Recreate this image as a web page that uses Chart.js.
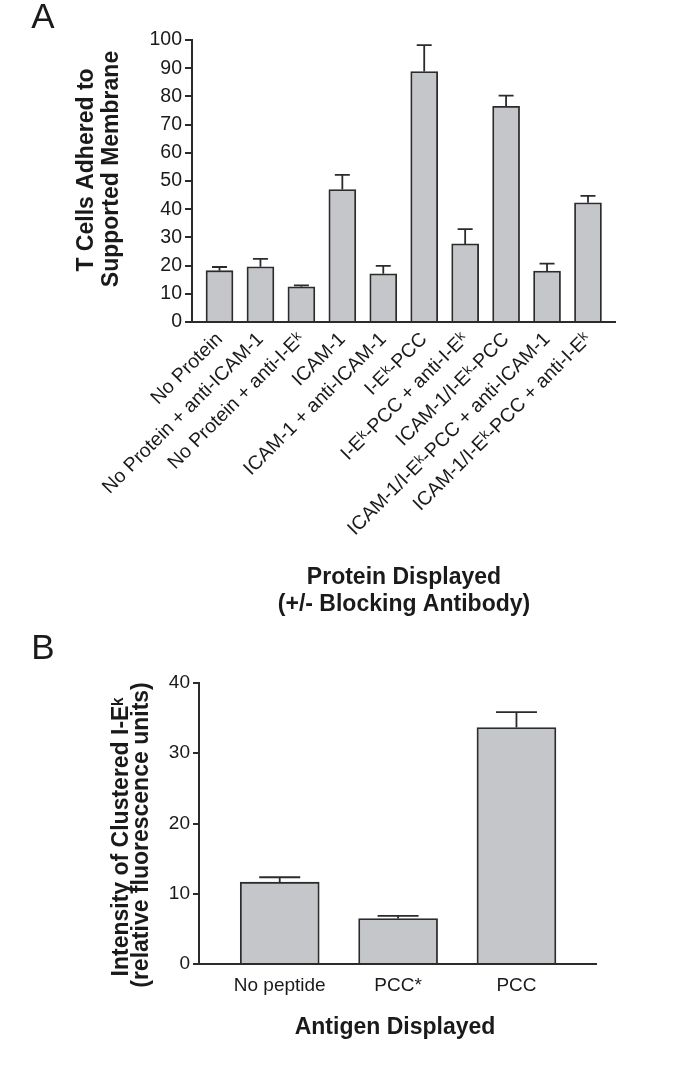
<!DOCTYPE html>
<html lang="en">
<head>
  <meta charset="UTF-8">
  <title>T cell adhesion and I-Ek clustering</title>
  <script src="https://cdn.jsdelivr.net/npm/chart.js"></script>
  <style>
    html, body {
      margin: 0;
      padding: 0;
      background: #ffffff;
    }
    .panel {
      position: absolute;
      left: 0;
      width: 685px;
    }
    #panelA { top: 0; height: 620px; }
    #panelB { top: 620px; height: 446px; }
  </style>
</head>
<body>
  <div class="panel" id="panelA"><canvas id="chartA"></canvas></div>
  <div class="panel" id="panelB"><canvas id="chartB"></canvas></div>

  <script>
    // Panel A data
    const labelsA = [
      "No Protein",
      "No Protein + anti-ICAM-1",
      "No Protein + anti-I-Eᵏ",
      "ICAM-1",
      "ICAM-1 + anti-ICAM-1",
      "I-Eᵏ-PCC",
      "I-Eᵏ-PCC + anti-I-Eᵏ",
      "ICAM-1/I-Eᵏ-PCC",
      "ICAM-1/I-Eᵏ-PCC + anti-ICAM-1",
      "ICAM-1/I-Eᵏ-PCC + anti-I-Eᵏ"
    ];
    const valuesA = [18.2, 19.6, 12.5, 47.0, 17.1, 88.8, 27.7, 76.5, 18.1, 42.3];
    const errorsA = [1.3, 2.8, 0.5, 5.2, 2.8, 9.4, 5.2, 3.8, 2.6, 2.4];
    const yTicksA = [0, 10, 20, 30, 40, 50, 60, 70, 80, 90, 100];

    // Panel B data
    const labelsB = ["No peptide", "PCC*", "PCC"];
    const valuesB = [11.65, 6.48, 33.66];
    const errorsB = [0.7, 0.38, 2.2];
    const yTicksB = [0, 10, 20, 30, 40];

    const FONT = "'Liberation Sans', Arial, Helvetica, sans-serif";
    const INK = "#2b2b2b";
    const BAR = "#c5c6c9";

    // error bars (upper half only) drawn through the chart's own scales
    const errorBars = {
      id: "errorBars",
      afterDatasetsDraw(chart, args, opts) {
        const ctx = chart.ctx;
        const yScale = chart.scales.y;
        const meta = chart.getDatasetMeta(0);
        ctx.save();
        ctx.strokeStyle = INK;
        ctx.lineWidth = 1.8;
        meta.data.forEach((bar, i) => {
          const v = opts.values[i];
          const top = yScale.getPixelForValue(v + opts.errors[i]);
          ctx.beginPath();
          ctx.moveTo(bar.x, bar.y);
          ctx.lineTo(bar.x, top);
          ctx.moveTo(bar.x - opts.cap / 2, top);
          ctx.lineTo(bar.x + opts.cap / 2, top);
          ctx.stroke();
        });
        ctx.restore();
      }
    };

    // axis titles and panel letters
    const titles = {
      id: "titles",
      afterDraw(chart, args, opts) {
        const ctx = chart.ctx;
        ctx.save();
        ctx.fillStyle = "#1a1a1a";
        ctx.textAlign = "center";
        ctx.textBaseline = "middle";
        ctx.font = "35px " + FONT;
        ctx.fillText(opts.letter[0], opts.letter[1], opts.letter[2]);
        ctx.font = "bold 23px " + FONT;
        opts.xTitle.forEach(t => ctx.fillText(t[0], t[1], t[2]));
        opts.yTitle.forEach(t => {
          ctx.save();
          ctx.translate(t[1], t[2]);
          ctx.rotate(-Math.PI / 2);
          ctx.fillText(t[0], 0, 0);
          ctx.restore();
        });
        ctx.restore();
      }
    };

    function makeChart(id, cfg) {
      const positions = cfg.labels.map((l, i) => i);
      return new Chart(document.getElementById(id), {
        type: "bar",
        data: {
          datasets: [{
            data: positions.map(i => ({ x: i, y: cfg.values[i] })),
            backgroundColor: BAR,
            borderColor: INK,
            borderWidth: 1.8,
            barThickness: cfg.barWidth
          }]
        },
        options: {
          responsive: true,
          maintainAspectRatio: false,
          animation: false,
          layout: { padding: cfg.padding },
          plugins: {
            legend: { display: false },
            tooltip: { enabled: false },
            errorBars: { values: cfg.values, errors: cfg.errors, cap: cfg.cap },
            titles: cfg.titles
          },
          scales: {
            x: {
              type: "linear",
              offset: false,
              min: cfg.xMin,
              max: cfg.xMax,
              afterBuildTicks: s => { s.ticks = positions.map(v => ({ value: v })); },
              afterFit: s => { s.height = cfg.xHeight; },
              grid: { display: false, drawTicks: false },
              border: { display: true, color: INK, width: 2 },
              ticks: {
                autoSkip: false,
                minRotation: cfg.rotation,
                maxRotation: cfg.rotation,
                padding: cfg.xPad,
                color: "#1a1a1a",
                font: { family: FONT, size: cfg.xFont },
                callback: v => cfg.labels[v]
              }
            },
            y: {
              min: 0,
              max: cfg.yTicks[cfg.yTicks.length - 1],
              afterBuildTicks: s => { s.ticks = cfg.yTicks.map(v => ({ value: v })); },
              afterFit: s => { s.width = cfg.yWidth; },
              grid: { drawOnChartArea: false, drawTicks: true, tickLength: cfg.tickLen, color: INK, lineWidth: 2 },
              border: { display: true, color: INK, width: 2 },
              ticks: {
                padding: 3,
                color: "#1a1a1a",
                font: { family: FONT, size: cfg.yFont }
              }
            }
          }
        },
        plugins: [errorBars, titles]
      });
    }

    makeChart("chartA", {
      labels: labelsA, values: valuesA, errors: errorsA, yTicks: yTicksA,
      barWidth: 27, cap: 15,
      xMin: -0.672, xMax: 9.66,
      padding: { top: 40, right: 70, left: 0, bottom: 0 },
      yWidth: 192, xHeight: 298,
      rotation: 45, xPad: 6, xFont: 19.5, yFont: 19.5, tickLen: 7,
      titles: {
        letter: ["A", 43, 18],
        xTitle: [["Protein Displayed", 404, 578], ["(+/- Blocking Antibody)", 404, 605]],
        yTitle: [["T Cells Adhered to", 87, 170], ["Supported Membrane", 112, 169]]
      }
    });

    makeChart("chartB", {
      labels: labelsB, values: valuesB, errors: errorsB, yTicks: yTicksB,
      barWidth: 79, cap: 41,
      xMin: -0.682, xMax: 2.672,
      padding: { top: 63, right: 89, left: 0, bottom: 0 },
      yWidth: 199, xHeight: 102,
      rotation: 0, xPad: 10, xFont: 19, yFont: 19, tickLen: 6,
      titles: {
        letter: ["B", 43, 29],
        xTitle: [["Antigen Displayed", 395, 408]],
        yTitle: [["Intensity of Clustered I-Eᵏ", 122, 217], ["(relative fluorescence units)", 142, 215]]
      }
    });
  </script>
</body>
</html>
